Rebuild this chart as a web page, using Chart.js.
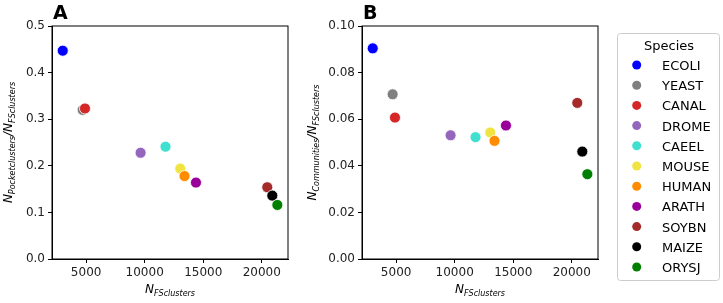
<!DOCTYPE html>
<html>
<head>
<meta charset="utf-8">
<script src="https://cdn.jsdelivr.net/npm/chart.js@4.4.0/dist/chart.umd.min.js"></script>
<style>
  html, body { margin: 0; padding: 0; background: #fff; }
  #wrap { position: relative; width: 723px; height: 303px; overflow: hidden; }
  #chartA { position: absolute; left: 0; top: 0; }
  #chartB { position: absolute; left: 300px; top: 0; }
</style>
</head>
<body>
<div id="wrap">
  <canvas id="chartA" width="300" height="303"></canvas>
  <canvas id="chartB" width="423" height="303"></canvas>
</div>
<script>
// values
const species = ["ECOLI", "YEAST", "CANAL", "DROME", "CAEEL", "MOUSE", "HUMAN", "ARATH", "SOYBN", "MAIZE", "ORYSJ"];
const speciesColors = ["#0000ff", "#808080", "#d62728", "#9467bd", "#40e0d0", "#f0e442", "#ff8c00", "#990099", "#a52a2a", "#000000", "#008000"];
const fsClusters = [3000, 4700, 4900, 9650, 11780, 13040, 13400, 14380, 20470, 20900, 21330];
const pocketRatio = [0.447, 0.320, 0.323, 0.228, 0.241, 0.194, 0.178, 0.164, 0.154, 0.136, 0.116];
const communityRatio = [0.0904, 0.0707, 0.0607, 0.0531, 0.0523, 0.0543, 0.0507, 0.0573, 0.0670, 0.0461, 0.0364];

const xTicks = [5000, 10000, 15000, 20000];
const yTicksA = [0, 0.1, 0.2, 0.3, 0.4, 0.5];
const yTicksB = [0, 0.02, 0.04, 0.06, 0.08, 0.10];
const xMin = 2084, xMax = 22240;

const FONT = "'DejaVu Sans', sans-serif";

function makeDatasets(yValues) {
  return species.map((name, i) => ({
    label: name,
    data: [{ x: fsClusters[i], y: yValues[i] }],
    backgroundColor: speciesColors[i],
    borderColor: "#ffffff",
    borderWidth: 0.8,
    pointRadius: 5.5,
    pointHoverRadius: 5.5,
    order: species.length - i   // later species drawn on top
  }));
}

// draws text with italic subscripts, centred at (0,0) of current transform
function drawSubText(ctx, parts) {
  const mainFont = "italic 12px " + FONT;
  const subFont = "italic 8px " + FONT;
  let total = 0;
  parts.forEach(p => { ctx.font = p[1] ? subFont : mainFont; total += ctx.measureText(p[0]).width; });
  let x = -total / 2;
  ctx.textAlign = "left";
  ctx.textBaseline = "alphabetic";
  parts.forEach(p => {
    ctx.font = p[1] ? subFont : mainFont;
    ctx.fillText(p[0], x, p[1] ? 3 : 0);
    x += ctx.measureText(p[0]).width;
  });
}

function framePlugin(letter, yTitle, yTitleX) {
  return {
    id: "frame" + letter,
    afterDraw(chart) {
      const ctx = chart.ctx;
      const a = chart.chartArea;
      ctx.save();
      ctx.strokeStyle = "#000";
      ctx.lineWidth = 1;
      ctx.strokeRect(a.left, a.top, a.right - a.left, a.bottom - a.top);
      ctx.fillStyle = "#000";
      // panel letter
      ctx.font = "bold 19px " + FONT;
      ctx.textAlign = "left";
      ctx.textBaseline = "alphabetic";
      ctx.fillText(letter, a.left + 1, 19);
      // x title
      ctx.save();
      ctx.translate((a.left + a.right) / 2, 293);
      drawSubText(ctx, [["N", false], ["FSclusters", true]]);
      ctx.restore();
      // y title
      ctx.save();
      ctx.translate(yTitleX, (a.top + a.bottom) / 2);
      ctx.rotate(-Math.PI / 2);
      drawSubText(ctx, yTitle);
      ctx.restore();
      ctx.restore();
    }
  };
}

const legendPlugin = {
  id: "speciesLegend",
  afterDraw(chart) {
    const ctx = chart.ctx;
    const bx = 317, by = 33, bw = 102, bh = 247;
    ctx.save();
    ctx.fillStyle = "rgba(255,255,255,0.8)";
    ctx.strokeStyle = "#cccccc";
    ctx.lineWidth = 1;
    ctx.beginPath();
    ctx.roundRect(bx + 0.5, by + 0.5, bw, bh, 3);
    ctx.fill();
    ctx.stroke();
    ctx.fillStyle = "#000";
    ctx.font = "13px " + FONT;
    ctx.textAlign = "center";
    ctx.textBaseline = "alphabetic";
    ctx.fillText("Species", bx + bw / 2 + 1, 50);
    ctx.textAlign = "left";
    chart.data.datasets.forEach((ds, i) => {
      const cy = 65 + i * 20.2;
      ctx.beginPath();
      ctx.arc(336.7, cy, 4.5, 0, Math.PI * 2);
      ctx.fillStyle = ds.backgroundColor;
      ctx.fill();
      ctx.fillStyle = "#000";
      ctx.fillText(ds.label, 362, cy + 5);
    });
    ctx.restore();
  }
};

function makeOptions(yTicks, yMax, yDecimals, yWidth, padRight) {
  return {
    responsive: false,
    animation: false,
    devicePixelRatio: 1,
    layout: { padding: { top: 26, right: padRight, left: 0, bottom: 0 } },
    plugins: { legend: { display: false }, tooltip: { enabled: false } },
    scales: {
      x: {
        type: "linear",
        min: xMin, max: xMax,
        afterBuildTicks(scale) { scale.ticks = xTicks.map(v => ({ value: v })); },
        afterFit(scale) { scale.height = 44; },
        grid: { drawOnChartArea: false, drawTicks: true, tickLength: 4, color: "#000" },
        border: { color: "#000", width: 1 },
        ticks: { color: "#222", font: { family: FONT, size: 12 }, padding: 3, maxRotation: 0,
                 callback: v => String(v) }
      },
      y: {
        type: "linear",
        min: 0, max: yMax,
        afterBuildTicks(scale) { scale.ticks = yTicks.map(v => ({ value: v })); },
        afterFit(scale) { scale.width = yWidth; },
        grid: { drawOnChartArea: false, drawTicks: true, tickLength: 4, color: "#000" },
        border: { color: "#000", width: 1 },
        ticks: { color: "#222", font: { family: FONT, size: 12 }, padding: 3,
                 callback: v => Number(v).toFixed(yDecimals) }
      }
    }
  };
}

new Chart(document.getElementById("chartA"), {
  type: "scatter",
  data: { datasets: makeDatasets(pocketRatio) },
  options: makeOptions(yTicksA, 0.5, 1, 52, 12),
  plugins: [framePlugin("A", [["N", false], ["Pocketclusters", true], ["/N", false], ["FSclusters", true]], 12)]
});

new Chart(document.getElementById("chartB"), {
  type: "scatter",
  data: { datasets: makeDatasets(communityRatio) },
  options: makeOptions(yTicksB, 0.10, 2, 62, 125),
  plugins: [framePlugin("B", [["N", false], ["Communities", true], ["/N", false], ["FSclusters", true]], 16), legendPlugin]
});
</script>
</body>
</html>
